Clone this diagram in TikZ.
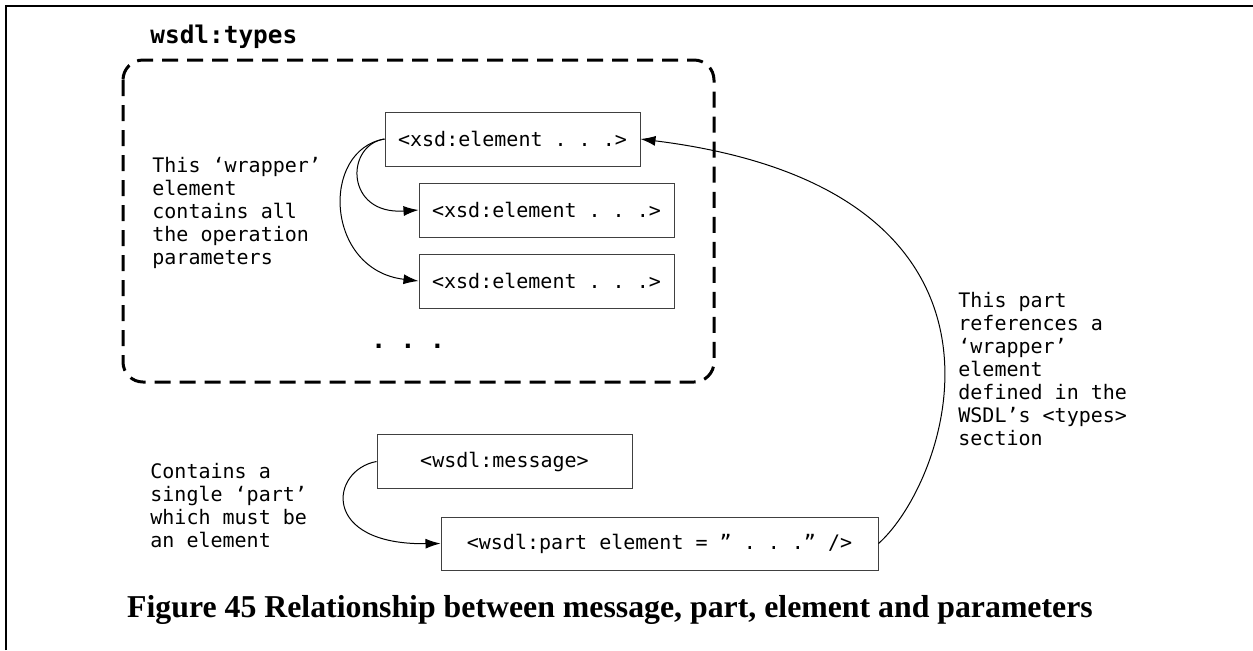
\documentclass[tikz,border=0pt]{standalone}
\usepackage{fontspec}
\setmainfont{Liberation Serif}
\setmonofont{DejaVu Sans Mono}
\usetikzlibrary{arrows.meta}
\tikzstyle{elem} = [rectangle, draw=black!75, line width=0.5pt, minimum width=127.5pt, minimum height=27pt, inner sep=0pt, font=\ttfamily\fontsize{10}{11.5}\selectfont]
\tikzstyle{note} = [anchor=west, align=left, inner sep=0pt, font=\ttfamily\fontsize{10}{11.5}\selectfont]
\tikzstyle{wrapper} = [line width=1.5pt, dash pattern=on 8pt off 4.5pt, rounded corners=10pt]
\tikzstyle{arrow} = [line width=0.5pt, -{Latex[length=7.5pt,width=5pt]}]
\begin{document}
\begin{tikzpicture}[x=0.5pt,y=-0.5pt]
\useasboundingbox (0,0) rectangle (1253,650);
\draw [line width=1pt] (6,650) -- (6,6) -- (1253,6);

\node (types) [anchor=west, inner sep=0pt, font=\ttfamily\bfseries\fontsize{12.2}{14}\selectfont] at (150,37) {wsdl:types};
\draw [wrapper] (123,60) rectangle (714,382);

\node (el1) [elem] at (512.5,139) {<xsd:element . . .>};
\node (el2) [elem] at (546.5,210) {<xsd:element . . .>};
\node (el3) [elem] at (546.5,281) {<xsd:element . . .>};
\node (dots) [font=\ttfamily\bfseries\fontsize{12.2}{14}\selectfont] at (408,346) {. . .};

\node (wrapnote) [note] at (152,213) {This ‘wrapper’\\element\\contains all\\the operation\\parameters};

\node (msg) [elem] at (504.5,461.5) {<wsdl:message>};
\node (part) [elem, minimum width=218.5pt, minimum height=26.5pt] at (659.5,543.5) {<wsdl:part element = ” . . .” />};

\node (partnote) [note] at (150,506) {Contains a\\single ‘part’\\which must be\\an element};
\node (refnote) [note] at (958,369) {This part\\references a\\‘wrapper’\\element\\defined in the\\WSDL’s <types>\\section};

\draw [arrow] (el1.west) .. controls (345,145) and (345,215) .. (el2.west);
\draw [arrow] (el1.west) .. controls (320,150) and (325,270) .. (el3.west);
\draw [arrow] (msg.west) .. controls (330,470) and (320,545) .. (part.west);
\draw [arrow] (part.east) .. controls (950,480) and (1050,190) .. (el1.east);

\node (cap) [font=\bfseries\fontsize{15.9}{18}\selectfont] at (610,610) {Figure 45 Relationship between message, part, element and parameters};
\end{tikzpicture}
\end{document}
